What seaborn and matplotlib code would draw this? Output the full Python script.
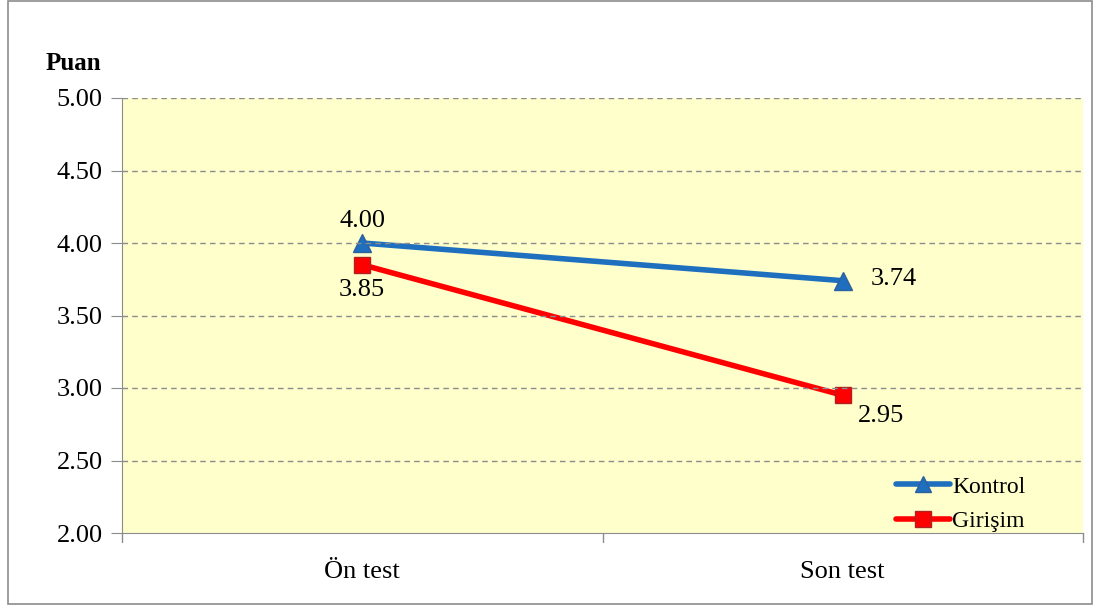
import matplotlib
matplotlib.use("Agg")
import matplotlib.pyplot as plt
import seaborn as sns
import pandas as pd
from matplotlib.patches import Rectangle

# data
tests = ["Ön test", "Son test"]
kontrol = [4.00, 3.74]
girisim = [3.85, 2.95]
y_ticks = [2.00, 2.50, 3.00, 3.50, 4.00, 4.50, 5.00]

df = pd.DataFrame({
    "test": tests * 2,
    "puan": kontrol + girisim,
    "grup": ["Kontrol"] * 2 + ["Girişim"] * 2,
})

sns.set_style("white")
plt.rcParams['font.family'] = ['Liberation Serif', 'DejaVu Serif']
plt.rcParams['text.color'] = "black"

fig = plt.figure(figsize=(11.01, 6.08), dpi=100)
fig.patches.append(Rectangle((8 / 1101, 4 / 608), 1084 / 1101, 603 / 608,
                             transform=fig.transFigure, fill=False,
                             edgecolor="#8c8c8c", linewidth=1.2))
ax = fig.add_axes([122 / 1101, 1 - 533 / 608, 961 / 1101, 435 / 608])
ax.set_facecolor("#ffffcc")

palette = {"Kontrol": "#1f6fbf", "Girişim": "#ff0000"}
markers = {"Kontrol": "^", "Girişim": "s"}
edges = {"Kontrol": "#2e5f9e", "Girişim": "#b02020"}
sns.lineplot(data=df, x="test", y="puan", hue="grup", style="grup",
             palette=palette, markers=markers, dashes=False, linewidth=4,
             markersize=13, ax=ax, legend=False, sort=False)
for line, grp in zip(ax.lines, ["Kontrol", "Girişim"]):
    line.set_markeredgecolor(edges[grp])
    line.set_markeredgewidth(1)
ax.lines[1].set_markersize(11)

ax.set_xlim(-0.5, 1.5)
ax.set_ylim(2.0, 5.0)
ax.set_yticks(y_ticks)
ax.set_yticklabels([f"{v:.2f}" for v in y_ticks], fontsize=19, color="black")
ax.set_xticks([0, 1])
ax.set_xticklabels(tests, fontsize=19, color="black")
ax.tick_params(axis="x", length=0, pad=20)
ax.tick_params(axis="y", length=8, color="#8c8c8c", direction="out", left=True, pad=6)
# boundary ticks between categories
for xb in [-0.5, 0.5, 1.5]:
    ax.plot([xb, xb], [2.0, 1.94], color="#8c8c8c", lw=1, clip_on=False)
ax.set_xlabel("")
ax.set_ylabel("")
for yv in y_ticks[1:]:
    ax.axhline(yv, color="#8c8c8c", lw=1, ls=(0, (4, 3)))
for side in ["top", "right"]:
    ax.spines[side].set_visible(False)
ax.spines["left"].set_color("#8c8c8c")
ax.spines["bottom"].set_color("#8c8c8c")

# value labels
fs = 19
ax.annotate(f"{kontrol[0]:.2f}", (0, kontrol[0]), xytext=(0, 8),
            textcoords="offset points", ha="center", va="bottom", fontsize=fs)
ax.annotate(f"{girisim[0]:.2f}", (0, girisim[0]), xytext=(0, -10),
            textcoords="offset points", ha="center", va="top", fontsize=fs)
ax.annotate(f"{kontrol[1]:.2f}", (1, kontrol[1]), xytext=(20, 1),
            textcoords="offset points", ha="left", va="center", fontsize=fs)
ax.annotate(f"{girisim[1]:.2f}", (1, girisim[1]), xytext=(11, -7),
            textcoords="offset points", ha="left", va="top", fontsize=fs)

fig.text(73 / 1101, 1 - 64 / 608, "Puan", fontsize=18, fontweight="bold",
         ha="center", va="center")

handles = [plt.Line2D([], [], color=palette[g], lw=4, marker=markers[g],
                      markersize=11, markeredgecolor=edges[g])
           for g in ["Kontrol", "Girişim"]]
ax.legend(handles, ["Kontrol", "Girişim"], loc="lower left", frameon=False,
          fontsize=17, handlelength=2.3, handletextpad=0.1, labelspacing=0.55,
          borderaxespad=0, borderpad=0, bbox_to_anchor=(0.805, 0.002))

fig.savefig("out.png", dpi=100)
